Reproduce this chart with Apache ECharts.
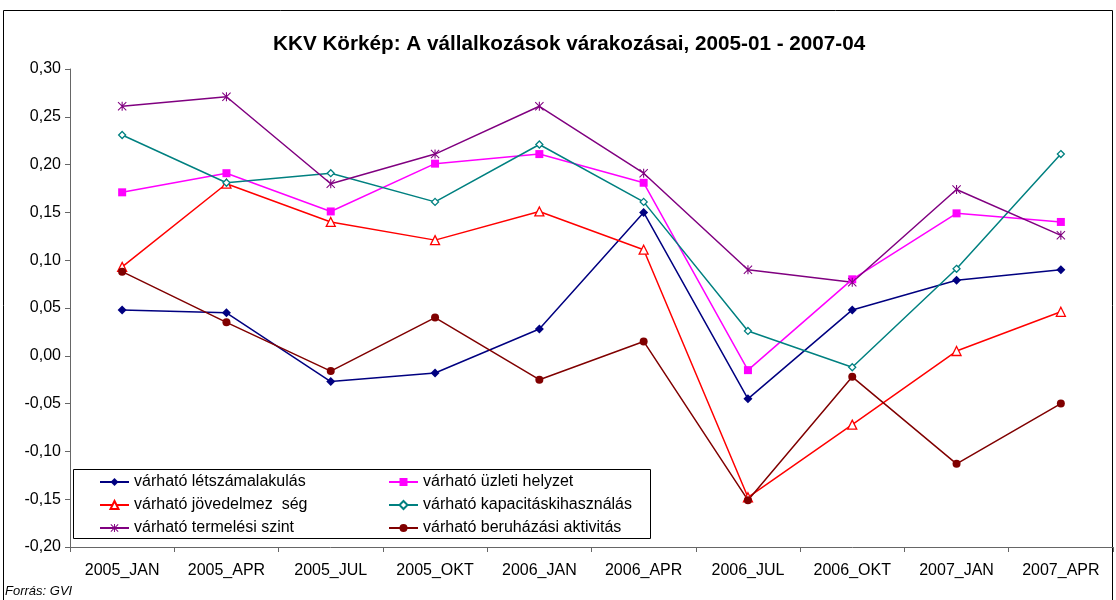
<!DOCTYPE html>
<html>
<head>
<meta charset="utf-8">
<script src="https://cdn.jsdelivr.net/npm/echarts@6/dist/echarts.min.js"></script>
<style>
  html, body { margin: 0; padding: 0; background: #fff; }
  #chart { width: 1116px; height: 600px; }
</style>
</head>
<body>
<div id="chart"></div>
<script>
const categories = ['2005_JAN', '2005_APR', '2005_JUL', '2005_OKT', '2006_JAN', '2006_APR', '2006_JUL', '2006_OKT', '2007_JAN', '2007_APR'];

const letszam     = [0.048, 0.045, -0.027, -0.018, 0.028, 0.150, -0.045, 0.048, 0.079, 0.090];
const uzleti      = [0.171, 0.191, 0.151, 0.201, 0.211, 0.181, -0.015, 0.080, 0.149, 0.140];
const jovedelem   = [0.093, 0.180, 0.140, 0.121, 0.151, 0.111, -0.148, -0.072, 0.005, 0.046];
const kapacitas   = [0.231, 0.181, 0.191, 0.161, 0.221, 0.161, 0.026, -0.012, 0.091, 0.211];
const termeles    = [0.261, 0.271, 0.180, 0.211, 0.261, 0.191, 0.090, 0.077, 0.174, 0.126];
const beruhazas   = [0.088, 0.035, -0.016, 0.040, -0.025, 0.015, -0.151, -0.022, -0.113, -0.050];

const seriesNames = [
    'várható létszámalakulás',
    'várható üzleti helyzet',
    'várható jövedelmez  ség',
    'várható kapacitáskihasználás',
    'várható termelési szint',
    'várható beruházási aktivitás'
];

// asterisk marker (vertical bar + X)
const starPath = 'path://M4.4 0L5.6 0L5.6 10L4.4 10Z M0 0.8L0.8 0L10 9.2L9.2 10Z M10 0.8L0.8 10L0 9.2L9.2 0Z';

const font = 'Liberation Sans, Arial, sans-serif';

function line(name, data, color, symbol, size, fill) {
    return {
        name: name,
        type: 'line',
        data: data,
        symbol: symbol,
        symbolSize: size,
        showSymbol: true,
        lineStyle: { color: color, width: 1.5 },
        itemStyle: { color: fill || color, borderColor: color, borderWidth: fill ? 1.3 : 0 },
        emphasis: { disabled: true },
        animation: false
    };
}

const legendText = { fontFamily: font, fontSize: 16, color: '#000' };
const axisColor = '#666';

const chart = echarts.init(document.getElementById('chart'), null, { renderer: 'canvas' });
chart.setOption({
    backgroundColor: '#fff',
    animation: false,
    title: {
        text: 'KKV Körkép: A vállalkozások várakozásai, 2005-01 - 2007-04',
        left: 268,
        top: 29,
        textStyle: { fontFamily: font, fontSize: 20.7, fontWeight: 'bold', color: '#000' }
    },
    grid: { left: 70, right: 3, top: 69, bottom: 53 },
    xAxis: {
        type: 'category',
        data: categories,
        boundaryGap: true,
        axisLine: { onZero: false, lineStyle: { color: axisColor, width: 1 } },
        axisTick: { show: true, interval: 0, length: 5, lineStyle: { color: axisColor } },
        axisLabel: { interval: 0, margin: 16, fontFamily: font, fontSize: 16, color: '#000' },
        splitLine: { show: false }
    },
    yAxis: {
        type: 'value',
        min: -0.2,
        max: 0.3,
        interval: 0.05,
        axisLine: { show: true, lineStyle: { color: axisColor, width: 1 } },
        axisTick: { show: true, length: 5, lineStyle: { color: axisColor } },
        axisLabel: {
            margin: 9,
            fontFamily: font,
            fontSize: 16,
            color: '#000',
            formatter: v => (Math.abs(v) < 1e-9 ? 0 : v).toFixed(2).replace('.', ',')
        },
        splitLine: { show: false }
    },
    legend: [
        {
            orient: 'vertical',
            left: 94,
            top: 469,
            itemGap: 7,
            itemWidth: 29,
            itemHeight: 10,
            z: 10,
            textStyle: legendText,
            data: [seriesNames[0], seriesNames[2], seriesNames[4]]
        },
        {
            orient: 'vertical',
            left: 383,
            top: 469,
            itemGap: 7,
            itemWidth: 29,
            itemHeight: 10,
            z: 10,
            textStyle: legendText,
            data: [seriesNames[1], seriesNames[3], seriesNames[5]]
        }
    ],
    graphic: [
        {
            type: 'rect',
            shape: { x: 3.5, y: 10.5, width: 1109, height: 600 },
            style: { fill: null, stroke: '#000', lineWidth: 1 },
            silent: true
        },
        {
            type: 'rect',
            shape: { x: 73.5, y: 469.5, width: 577, height: 69 },
            style: { fill: '#fff', stroke: '#000', lineWidth: 1 },
            z: 5,
            silent: true
        },
        {
            type: 'text',
            left: 5,
            top: 585,
            style: { text: 'Forrás: GVI', font: 'italic 13px ' + font, fill: '#000' }
        }
    ],
    series: [
        line(seriesNames[0], letszam, '#000080', 'diamond', 9),
        line(seriesNames[1], uzleti, '#FF00FF', 'rect', 8),
        line(seriesNames[2], jovedelem, '#FF0000', 'triangle', 9, '#fff'),
        line(seriesNames[3], kapacitas, '#008080', 'diamond', 7, '#fff'),
        line(seriesNames[4], termeles, '#800080', starPath, 9),
        line(seriesNames[5], beruhazas, '#800000', 'circle', 8)
    ]
});
</script>
</body>
</html>
